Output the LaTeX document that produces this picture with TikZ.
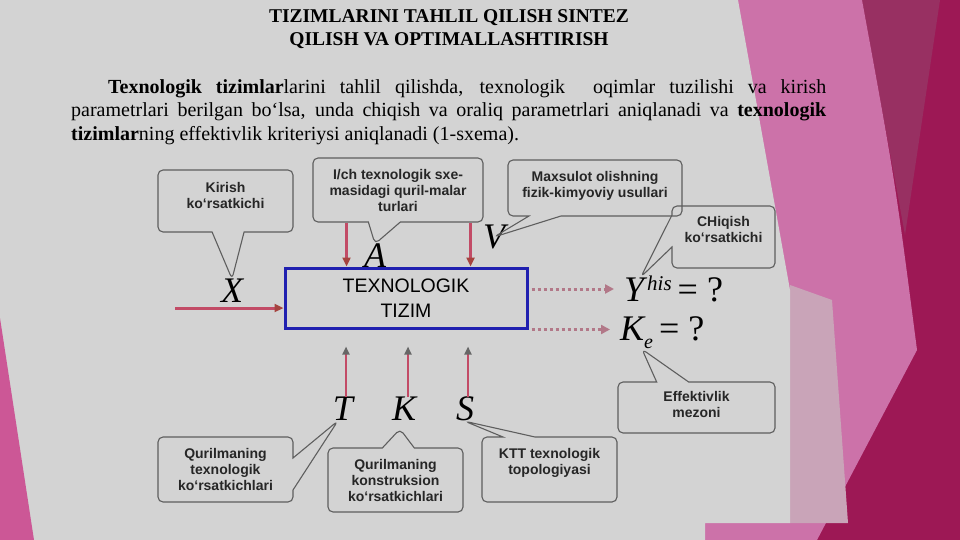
\documentclass[tikz,border=0pt]{standalone}
\usepackage{fontspec}
\setmainfont{Liberation Serif}
\setsansfont{Liberation Sans}
\usetikzlibrary{shapes.callouts,arrows.meta,calc}

\definecolor{panelgray}{HTML}{D3D3D3}
\definecolor{pinklight}{HTML}{CC72A9}
\definecolor{pinkpale}{HTML}{C9A4B8}
\definecolor{pinkleft}{HTML}{CC5796}
\definecolor{magdust}{HTML}{983062}
\definecolor{magdeep}{HTML}{9D1855}
\definecolor{arrowred}{HTML}{C24B66}
\definecolor{tipbrown}{HTML}{A5433F}
\definecolor{dotred}{HTML}{B27888}
\definecolor{boxblue}{HTML}{2020B0}
\definecolor{bubbleline}{HTML}{5E5E5E}

\begin{document}
\begin{tikzpicture}[x=1pt,y=-1pt,
	bubble/.style={rectangle callout,draw=bubbleline,line width=1.1pt,rounded corners=5pt,
		callout pointer width=32pt,align=center,text=black!85,inner sep=2pt,
		font=\sffamily\bfseries\fontsize{14}{16}\selectfont},
	letter/.style={font=\itshape\fontsize{36}{36}\selectfont,inner sep=0pt},
	inarrow/.style={draw=arrowred,line width=3pt,-{Triangle[length=9pt,width=8pt,color=tipbrown]}},
	uparrow/.style={draw=arrowred,line width=2.6pt,-{Triangle[length=8pt,width=7pt,color=black!60]}},
	dotarrow/.style={draw=dotred,line width=3pt,dash pattern=on 3pt off 3pt,
		-{Triangle[length=9pt,width=9pt]}}]
	\useasboundingbox (0,0) rectangle (960,540);

	% slide background
	\fill[magdeep] (0,0) rectangle (960,540);
	\fill[magdust] (862,0) -- (940,0) -- (905,235) -- cycle;
	\fill[pinklight] (700,0) -- (862,0) .. controls (895,180) .. (917,350) -- (817,540) -- (700,540) -- cycle;
	\fill[pinkpale] (790,285) -- (832,300) -- (848,523) -- (790,523) -- cycle;
	\fill[panelgray] (0,0) -- (738,0) -- (790,290) -- (790,523) -- (705,523) -- (705,540) -- (0,540) -- cycle;
	\fill[pinkleft] (0,318) -- (34,540) -- (0,540) -- cycle;

	\node[font=\bfseries\fontsize{19.5}{23}\selectfont,align=center] (title) at (449,29)
		{TIZIMLARINI TAHLIL QILISH SINTEZ\\QILISH VA OPTIMALLASHTIRISH};
	\node[anchor=north west,inner sep=0pt,text width=755pt,align=justify,
		font=\fontsize{20}{23.5}\selectfont] (para) at (71,79)
		{\hspace*{37pt}\textbf{Texnologik tizimlar}larini tahlil qilishda, texnologik\ \ oqimlar tuzilishi va kirish\linebreak
		parametrlari berilgan bo‘lsa, unda chiqish va oraliq parametrlari aniqlanadi va \textbf{texnologik}\linebreak
		\textbf{tizimlar}ning effektivlik kriteriysi aniqlanadi (1-sxema).};

	% the system and its parameters
	\node[draw=boxblue,line width=3pt,minimum width=242pt,minimum height=60pt,align=center,
		font=\sffamily\fontsize{19.5}{25}\selectfont] (tizim) at (406,298) {TEXNOLOGIK\\TIZIM};

	\node[letter] (xlab) at (232,291) {X};
	\node[letter] (alab) at (375,256) {A};
	\node[letter] (vlab) at (494,237) {V};
	\node[letter] (tlab) at (343,409) {T};
	\node[letter] (klet) at (404,409) {K};
	\node[letter] (slab) at (465,409) {S};
	\node[letter,anchor=west] (ylab) at (624,289)
		{Y\kern3pt\raisebox{11pt}{\fontsize{21}{21}\selectfont his}\,\upshape= ?};
	\node[letter,anchor=west] (klab) at (620,333)
		{K\raisebox{-8pt}{\fontsize{20}{20}\selectfont e}\,\upshape= ?};

	\node[bubble,minimum width=135pt,minimum height=62pt,text depth=12pt,
		callout absolute pointer={(xlab.north)}] (kirish) at (225.5,201) {Kirish\\ko‘rsatkichi};
	\node[bubble,minimum width=170pt,minimum height=64pt,
		callout absolute pointer={(alab.north)}] (ich) at (398,190)
		{I/ch texnologik sxe-\\masidagi quril-malar\\turlari};
	\node[bubble,minimum width=174pt,minimum height=56pt,text depth=8pt,
		callout absolute pointer={(vlab.center)}] (usul) at (595,188)
		{Maxsulot olishning\\fizik-kimyoviy usullari};
	\node[bubble,minimum width=103pt,minimum height=62pt,text depth=16pt,
		callout absolute pointer={($(ylab.north west)+(17,1)$)}] (chiq) at (723.5,237)
		{CHiqish\\ko‘rsatkichi};
	\node[bubble,minimum width=157pt,minimum height=51pt,text depth=7pt,
		callout absolute pointer={($(klab.south west)+(22,0)$)}] (mezon) at (696.5,407.5)
		{Effektivlik\\mezoni};
	\node[bubble,minimum width=135pt,minimum height=65pt,
		callout absolute pointer={($(tlab.south west)+(5,0)$)}] (texk) at (225.5,469.5)
		{Qurilmaning\\texnologik\\ko‘rsatkichlari};
	\node[bubble,minimum width=135pt,minimum height=64pt,
		callout absolute pointer={($(klet.south)+(-4,8)$)}] (kons) at (395.5,480)
		{Qurilmaning\\konstruksion\\ko‘rsatkichlari};
	\node[bubble,minimum width=135pt,minimum height=65pt,text depth=16pt,
		callout absolute pointer={(slab.south)}] (ktt) at (549.5,469.5)
		{KTT texnologik\\topologiyasi};

	\coordinate (xin) at (175,308);
	\coordinate (a1) at ($(tizim.north west)+(63,0)$);
	\coordinate (a2) at ($(tizim.north west)+(187,0)$);
	\draw[inarrow] (xin) -- (xin -| tizim.west);
	\draw[inarrow] (ich.south -| a1) -- (a1);
	\draw[inarrow] (ich.south -| a2) -- (a2);
	\foreach \lab/\dx in {tlab/3,klet/4,slab/3}
		\draw[uparrow,shorten >=17pt] ([xshift=\dx pt]\lab.north) -- ([xshift=\dx pt]\lab.north |- tizim.south);
	\draw[dotarrow,shorten <=3pt,shorten >=10pt] (tizim.east |- ylab.west) -- (ylab.west);
	\draw[dotarrow,shorten <=3pt,shorten >=10pt] (tizim.south east) -- (tizim.south east -| klab.west);
\end{tikzpicture}
\end{document}
